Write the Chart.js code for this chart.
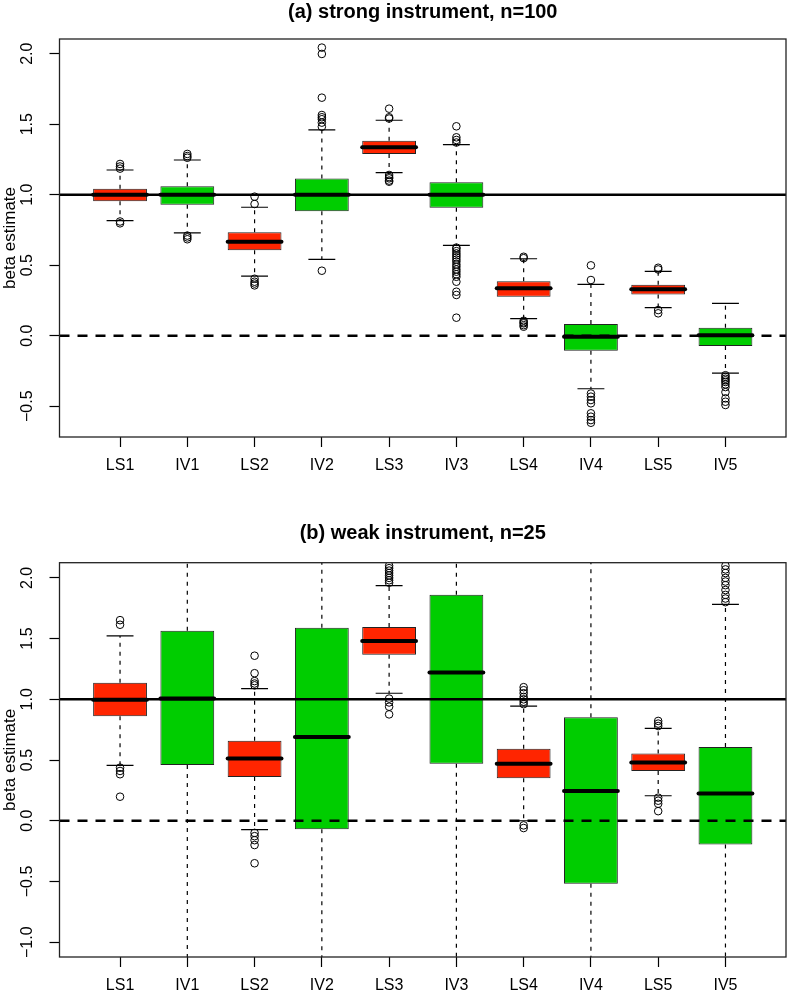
<!DOCTYPE html>
<html>
<head>
<meta charset="utf-8">
<script src="https://cdn.jsdelivr.net/npm/chart.js@4.4.1/dist/chart.umd.min.js"></script>
<style>
  body { margin: 0; background: #fff; }
  canvas { display: block; }
</style>
</head>
<body>
<canvas id="chartA" width="791" height="480"></canvas>
<canvas id="chartB" width="791" height="520"></canvas>
<script>
// Categories (x tick labels)
const categories = ['LS1', 'IV1', 'LS2', 'IV2', 'LS3', 'IV3', 'LS4', 'IV4', 'LS5', 'IV5'];

// (a) strong instrument, n=100
const q1A  = [0.953, 0.929, 0.606, 0.882, 1.289, 0.908, 0.277, -0.106, 0.293, -0.073];
const medA = [1.000, 1.000, 0.667, 1.000, 1.336, 1.000, 0.336, -0.007, 0.329, 0.003];
const q3A  = [1.043, 1.060, 0.733, 1.114, 1.383, 1.088, 0.386, 0.083, 0.362, 0.057];
const loA  = [0.816, 0.730, 0.423, 0.542, 1.156, 0.641, 0.121, -0.376, 0.199, -0.265];
const hiA  = [1.175, 1.246, 0.911, 1.459, 1.528, 1.355, 0.546, 0.364, 0.457, 0.230];
const outA = [
    [1.218, 1.200, 1.185, 0.810, 0.797],
    [1.289, 1.274, 1.262, 0.710, 0.697, 0.684],
    [0.986, 0.934, 0.404, 0.383, 0.370, 0.357],
    [2.043, 1.998, 1.688, 1.565, 1.549, 1.535, 1.511, 1.482, 0.461],
    [1.610, 1.549, 1.540, 1.140, 1.125, 1.116, 1.100, 1.092],
    [1.485, 1.407, 1.388, 1.370, 0.625, 0.617, 0.600, 0.584, 0.570, 0.556, 0.540, 0.525,
     0.505, 0.489, 0.470, 0.454, 0.436, 0.418, 0.383, 0.312, 0.289, 0.128],
    [0.560, 0.550, 0.106, 0.095, 0.088, 0.075, 0.064],
    [0.499, 0.395, -0.410, -0.432, -0.456, -0.479, -0.550, -0.574, -0.598, -0.617],
    [0.482, 0.470, 0.182, 0.159],
    [-0.280, -0.292, -0.305, -0.316, -0.328, -0.345, -0.364, -0.400, -0.444, -0.468, -0.491]
];

// (b) weak instrument, n=25
const q1B  = [0.860, 0.459, 0.361, -0.070, 1.367, 0.469, 0.350, -0.518, 0.410, -0.195];
const medB = [0.996, 1.006, 0.513, 0.689, 1.481, 1.221, 0.470, 0.244, 0.480, 0.225];
const q3B  = [1.137, 1.565, 0.659, 1.590, 1.595, 1.861, 0.592, 0.852, 0.553, 0.608];
const loB  = [0.456, -1.300, -0.073, -2.000, 1.050, -1.400, 0.000, -2.300, 0.206, -1.400];
const hiB  = [1.522, 3.200, 1.088, 3.900, 1.937, 4.000, 0.944, 2.900, 0.760, 1.782];
const outB = [
    [1.652, 1.614, 0.437, 0.410, 0.383, 0.198],
    [],
    [1.359, 1.215, 1.150, 1.130, 1.115, -0.100, -0.127, -0.160, -0.200, -0.350],
    [],
    [2.100, 2.080, 2.060, 2.040, 2.020, 2.000, 1.980, 1.960, 1.006, 0.974, 0.939, 0.876],
    [],
    [1.100, 1.075, 1.050, 1.020, 1.000, 0.980, 0.960, -0.038, -0.060],
    [],
    [0.822, 0.800, 0.780, 0.190, 0.165, 0.140, 0.079],
    [2.100, 2.070, 2.040, 2.000, 1.970, 1.940, 1.900, 1.860, 1.830, 1.800]
];

const RED = '#FF2500';
const GREEN = '#00CD00';
const FONT = "'Liberation Sans', Arial, Helvetica, sans-serif";

Chart.defaults.color = '#000';
Chart.defaults.font.family = FONT;

const fmt = v => v.toFixed(1).replace('-', '\u2212');

// whiskers, caps, medians, reference lines, frame and rotated y labels
function boxExtras(stats) {
    const clip = (ctx, a) => {
        ctx.beginPath();
        ctx.rect(a.left, a.top, a.right - a.left, a.bottom - a.top);
        ctx.clip();
    };
    return {
        id: 'boxExtras',
        beforeDatasetsDraw(chart) {
            const {ctx, chartArea: a, scales: {x, y}} = chart;
            ctx.save();
            clip(ctx, a);
            ctx.strokeStyle = '#000';
            ctx.lineWidth = 1.2;
            stats.lo.forEach((lo, i) => {
                const px = x.getPixelForValue(i + 1);
                const cap = x.getPixelForValue(i + 1.2) - px;
                [[stats.q1[i], lo], [stats.q3[i], stats.hi[i]]].forEach(([from, to]) => {
                    const py = y.getPixelForValue(to);
                    ctx.setLineDash([4, 5]);
                    ctx.beginPath();
                    ctx.moveTo(px, y.getPixelForValue(from));
                    ctx.lineTo(px, py);
                    ctx.stroke();
                    ctx.setLineDash([]);
                    ctx.beginPath();
                    ctx.moveTo(px - cap, py);
                    ctx.lineTo(px + cap, py);
                    ctx.stroke();
                });
            });
            ctx.restore();
        },
        afterDatasetsDraw(chart) {
            const {ctx, chartArea: a, scales: {x, y}} = chart;
            ctx.save();
            clip(ctx, a);
            // medians
            ctx.strokeStyle = '#000';
            ctx.lineWidth = 4;
            ctx.lineCap = 'round';
            stats.med.forEach((m, i) => {
                const py = y.getPixelForValue(m);
                ctx.beginPath();
                ctx.moveTo(x.getPixelForValue(i + 0.6), py);
                ctx.lineTo(x.getPixelForValue(i + 1.4), py);
                ctx.stroke();
            });
            // reference lines at 1 (solid) and 0 (dashed)
            ctx.lineCap = 'butt';
            ctx.lineWidth = 2.5;
            [[1, []], [0, [10, 8]]].forEach(([v, dash]) => {
                const py = y.getPixelForValue(v);
                ctx.setLineDash(dash);
                ctx.beginPath();
                ctx.moveTo(a.left, py);
                ctx.lineTo(a.right, py);
                ctx.stroke();
            });
            ctx.restore();
        },
        afterDraw(chart) {
            const {ctx, chartArea: a, scales: {y}} = chart;
            ctx.save();
            ctx.strokeStyle = '#222';
            ctx.lineWidth = 1.3;
            ctx.strokeRect(a.left, a.top, a.right - a.left, a.bottom - a.top);
            // y tick labels, read bottom to top as in the original
            ctx.fillStyle = '#000';
            ctx.font = '16px ' + FONT;
            ctx.textAlign = 'center';
            ctx.textBaseline = 'middle';
            y.ticks.forEach(t => {
                ctx.save();
                ctx.translate(28, y.getPixelForValue(t.value));
                ctx.rotate(-Math.PI / 2);
                ctx.fillText(fmt(t.value), 0, 0);
                ctx.restore();
            });
            ctx.restore();
        }
    };
}

function createBoxChart(canvasId, title, titlePad, yMin, yMax, stats, outliers) {
    const ctx = document.getElementById(canvasId).getContext('2d');

    const boxes = categories.map((c, i) => ({x: i + 1, y: [stats.q1[i], stats.q3[i]]}));
    const points = [];
    outliers.forEach((vals, i) => vals.forEach(v => points.push({x: i + 1, y: v})));

    return new Chart(ctx, {
        type: 'bar',
        data: {
            datasets: [{
                label: 'box',
                data: boxes,
                backgroundColor: categories.map(c => c.startsWith('LS') ? RED : GREEN),
                borderColor: '#222',
                borderWidth: 1,
                borderSkipped: false,
                barPercentage: 0.8,
                categoryPercentage: 1
            }, {
                type: 'scatter',
                label: 'outliers',
                data: points,
                pointStyle: 'circle',
                pointRadius: 3.8,
                pointBorderWidth: 1,
                pointBorderColor: '#000',
                pointBackgroundColor: 'rgba(0,0,0,0)'
            }]
        },
        options: {
            responsive: false,
            animation: false,
            layout: {padding: {right: 1}},
            plugins: {
                legend: {display: false},
                tooltip: {enabled: false},
                title: {
                    display: true,
                    text: title,
                    fullSize: false,
                    color: '#000',
                    font: {size: 20, weight: 'bold'},
                    padding: titlePad
                }
            },
            scales: {
                x: {
                    type: 'linear',
                    min: 0.1,
                    max: 10.9,
                    offset: false,
                    grid: {offset: false, drawOnChartArea: false, tickLength: 10, tickColor: '#000', tickWidth: 1.2},
                    border: {display: false},
                    ticks: {
                        stepSize: 1,
                        includeBounds: false,
                        autoSkip: false,
                        maxRotation: 0,
                        padding: 9,
                        font: {size: 16},
                        callback: v => categories[Math.round(v) - 1] || ''
                    },
                    afterFit: scale => { scale.height = 43; }
                },
                y: {
                    min: yMin,
                    max: yMax,
                    grid: {drawOnChartArea: false, tickLength: 10, tickColor: '#000', tickWidth: 1.2},
                    border: {display: false},
                    title: {display: true, text: 'beta estimate', font: {size: 17}, padding: 0},
                    ticks: {
                        stepSize: 0.5,
                        includeBounds: false,
                        display: false
                    },
                    afterFit: scale => { scale.width = 59.5; }
                }
            }
        },
        plugins: [boxExtras(stats)]
    });
}

createBoxChart('chartA', '(a) strong instrument, n=100', {top: 0, bottom: 15}, -0.718, 2.104,
    {q1: q1A, med: medA, q3: q3A, lo: loA, hi: hiA}, outA);
createBoxChart('chartB', '(b) weak instrument, n=25', {top: 41, bottom: 17.7}, -1.122, 2.125,
    {q1: q1B, med: medB, q3: q3B, lo: loB, hi: hiB}, outB);
</script>
</body>
</html>
